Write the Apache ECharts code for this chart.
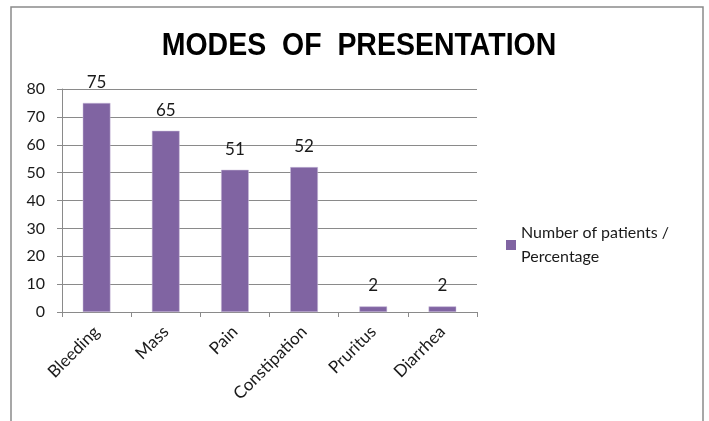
<!DOCTYPE html>
<html>
<head>
<meta charset="utf-8">
<script src="https://cdn.jsdelivr.net/npm/echarts@6/dist/echarts.min.js"></script>
<style>
  html, body { margin: 0; padding: 0; background: #fff; }
  #chart { width: 709px; height: 421px; }
</style>
</head>
<body>
<div id="chart"></div>
<script>
// Modes of presentation: number of patients (percentage) per symptom
const categories = ['Bleeding', 'Mass', 'Pain', 'Constipation', 'Pruritus', 'Diarrhea'];
const patientValues = [75, 65, 51, 52, 2, 2];
const yTicks = [0, 10, 20, 30, 40, 50, 60, 70, 80];
const seriesName = 'Number of patients / Percentage';
const titleText = 'MODES  OF  PRESENTATION';

const FONT = 'Lato, "Open Sans", sans-serif';
const chart = echarts.init(document.getElementById('chart'), null, { renderer: 'canvas' });

chart.setOption({
  backgroundColor: '#ffffff',
  animation: false,
  graphic: [{
    type: 'rect',
    shape: { x: 11, y: 7, width: 692, height: 430 },
    style: { fill: 'none', stroke: '#8a8a8a', lineWidth: 1.5 },
    silent: true
  }, {
    // condensed bold title
    type: 'text',
    x: 359,
    y: 30,
    originX: 0,
    scaleX: 0.89,
    style: {
      text: titleText,
      align: 'center',
      verticalAlign: 'top',
      font: 'bold 32px "Liberation Sans Narrow", "Arial Narrow", sans-serif',
      fill: '#000'
    },
    silent: true
  }],
  legend: {
    orient: 'vertical',
    left: 501,
    top: 205,
    itemWidth: 10,
    itemHeight: 10,
    itemGap: 6,
    icon: 'rect',
    itemStyle: { borderWidth: 0 },
    formatter: () => 'Number of patients /\nPercentage',
    textStyle: { fontFamily: FONT, fontSize: 16, color: '#1a1a1a', lineHeight: 24, padding: [22, 0, 0, 0] },
    data: [seriesName]
  },
  grid: { left: 62, right: 232, top: 89, bottom: 109, containLabel: false },
  xAxis: {
    type: 'category',
    data: categories,
    boundaryGap: true,
    axisLine: { lineStyle: { color: '#8a8a8a', width: 1 } },
    axisTick: { show: true, alignWithLabel: false, length: 5, lineStyle: { color: '#8a8a8a' } },
    axisLabel: { rotate: 45, margin: 17, fontFamily: FONT, fontSize: 17, color: '#1a1a1a' }
  },
  yAxis: {
    type: 'value',
    min: 0,
    max: yTicks[yTicks.length - 1],
    interval: yTicks[1] - yTicks[0],
    axisLine: { show: true, lineStyle: { color: '#8a8a8a' } },
    axisTick: { show: true, length: 5, lineStyle: { color: '#8a8a8a' } },
    splitLine: { lineStyle: { color: '#8a8a8a', width: 1 } },
    axisLabel: { margin: 17, fontFamily: FONT, fontSize: 16, color: '#1a1a1a' }
  },
  series: [{
    name: seriesName,
    type: 'bar',
    data: patientValues,
    barWidth: '40%',
    itemStyle: { color: '#8064A2', borderColor: '#c9bddb', borderWidth: 0.5 },
    label: { show: true, position: 'top', distance: 12, fontFamily: FONT, fontSize: 17, color: '#1a1a1a' }
  }]
});
</script>
</body>
</html>
